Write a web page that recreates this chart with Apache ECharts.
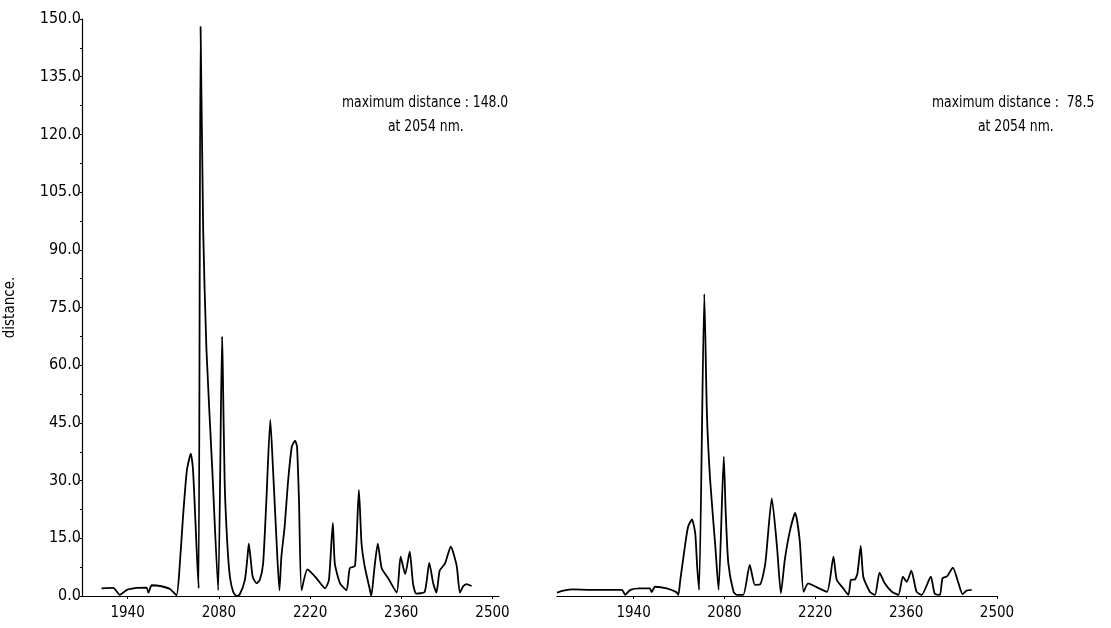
<!DOCTYPE html>
<html>
<head>
<meta charset="utf-8">
<script src="https://cdn.jsdelivr.net/npm/echarts@6/dist/echarts.min.js"></script>
<style>
  html, body { margin: 0; padding: 0; background: #fff; }
  #chart { width: 1111px; height: 628px; }
</style>
</head>
<body>
<div id="chart"></div>
<script>
// x tick labels (nm)
var xTicks = [1940, 2080, 2220, 2360, 2500];

// left panel: distance spectrum
var leftNm = [1900, 1918, 1928, 1939, 1954, 1969, 1972, 1977, 1990, 2005, 2015, 2020, 2025, 2031, 2037, 2040, 2042, 2046, 2049, 2052,
    2056, 2061, 2070, 2079, 2085, 2086, 2089, 2093, 2097, 2102, 2107, 2112, 2120, 2124, 2126, 2129, 2132, 2138, 2143, 2148,
    2153, 2159, 2163, 2168, 2173, 2176, 2181, 2186, 2192, 2197, 2200, 2203, 2207, 2216, 2230, 2243, 2249, 2255, 2258, 2266,
    2276, 2281, 2289, 2295, 2299, 2304, 2312, 2314, 2319, 2324, 2330, 2340, 2353, 2359, 2366, 2373, 2378, 2383, 2396, 2403,
    2409, 2414, 2419, 2427, 2436, 2445, 2450, 2455, 2460, 2468];
var leftDist = [2.0, 2.1, 0.3, 1.6, 2.1, 2.2, 0.9, 2.8, 2.6, 1.8, 0.2, 8, 20.5, 32.7, 37, 33.6, 27.5, 12, 2, 148,
    95, 64, 32.7, 1.5, 67.5, 60, 29.3, 13.7, 5, 1.1, 0, 0.4, 4.2, 10.2, 13.6, 9.4, 5, 3.3, 4.2, 8.5,
    25, 45.8, 33.6, 16.3, 1.5, 10.2, 18, 29.3, 38.8, 40.4, 38.8, 25, 1.5, 6.9, 4.6, 2.0, 4.2, 19, 8.5, 3.3,
    1.5, 7.2, 7.8, 27.6, 13.7, 7.6, 1.5, 0, 7.6, 13.6, 7.2, 4.6, 0.9, 10.2, 5.7, 11.5, 3.3, 0.6, 1.1, 8.6,
    3.3, 0.9, 6.6, 8.4, 12.8, 7.9, 0.9, 2.5, 3.1, 2.6];

// right panel
var rightNm = [1822, 1832, 1847, 1873, 1922, 1927, 1935, 1950, 1965, 1968, 1973, 1991, 2006, 2009, 2012, 2019, 2024, 2030, 2035, 2038,
    2041, 2049, 2053, 2058, 2066, 2071, 2079, 2082, 2086, 2094, 2099, 2109, 2119, 2127, 2135, 2143, 2153, 2161, 2167, 2173,
    2181, 2189, 2196, 2202, 2209, 2222, 2238, 2248, 2253, 2263, 2271, 2275, 2281, 2285, 2290, 2294, 2304, 2312, 2319, 2327,
    2338, 2348, 2355, 2361, 2368, 2376, 2384, 2398, 2404, 2412, 2416, 2423, 2432, 2440, 2447, 2453, 2461];
var rightDist = [0.9, 1.4, 1.7, 1.6, 1.6, 0.3, 1.6, 2.0, 2.0, 1.0, 2.4, 2.0, 1.0, 0.3, 4.2, 12.8, 18, 19.9, 16.3, 7.6,
    1.6, 78.5, 47.4, 30.1, 12.8, 1.6, 36.2, 21.5, 8.5, 1.1, 0.3, 0.3, 8.1, 2.9, 3.0, 8.5, 25.4, 12.8, 0.7, 9.4,
    17, 21.6, 14.5, 1.1, 3.3, 2.3, 1.1, 10.2, 4.2, 2.0, 0.3, 4.2, 4.3, 5.9, 13.0, 5.0, 1.1, 0.3, 6.1, 3.3,
    1.1, 0.3, 5.0, 3.7, 6.6, 1.1, 0.3, 5.0, 0.6, 0.3, 4.6, 5.1, 7.4, 3.7, 0.5, 1.4, 1.6];

var FONT = '"Liberation Sans Narrow", "DejaVu Sans Condensed", sans-serif';

function pairs(xs, ys) {
    var out = [];
    for (var i = 0; i < xs.length; i++) out.push([xs[i], ys[i]]);
    return out;
}

function xAxisFor(idx, min, max) {
    return {
        type: 'value', gridIndex: idx, min: min, max: max,
        axisLine: { show: true, onZero: false, lineStyle: { color: '#000', width: 1.2 } },
        axisTick: { show: true, length: 3, customValues: xTicks, lineStyle: { color: '#000' } },
        axisLabel: {
            customValues: xTicks, color: '#000', fontFamily: FONT, fontSize: 15, margin: 10,
            formatter: function (v) { return String(v); }
        },
        splitLine: { show: false }
    };
}

function note(x, y, text) {
    return {
        type: 'text', left: x, top: y, scaleX: 0.86,
        style: { text: text, fill: '#000', font: '16px ' + FONT }
    };
}

var chart = echarts.init(document.getElementById('chart'));
chart.setOption({
    backgroundColor: '#fff',
    animation: false,
    grid: [
        { left: 82, top: 19, width: 417, height: 577 },
        { left: 557, top: 19, width: 440, height: 577 }
    ],
    xAxis: [xAxisFor(0, 1870, 2510), xAxisFor(1, 1822, 2500)],
    yAxis: [{
        type: 'value', gridIndex: 0, min: 0, max: 150, interval: 15,
        name: 'distance.', nameLocation: 'middle', nameGap: 64,
        nameTextStyle: { color: '#000', fontFamily: FONT, fontSize: 15 },
        axisLine: { show: true, lineStyle: { color: '#000', width: 1.2 } },
        axisTick: { show: true, length: 2, lineStyle: { color: '#000' } },
        minorTick: { show: true, splitNumber: 2, length: 2, lineStyle: { color: '#000' } },
        axisLabel: {
            color: '#000', fontFamily: FONT, fontSize: 16, margin: 1,
            formatter: function (v) { return v.toFixed(1); }
        },
        splitLine: { show: false }
    }, {
        type: 'value', gridIndex: 1, min: 0, max: 150, show: false
    }],
    series: [{
        type: 'line', xAxisIndex: 0, yAxisIndex: 0,
        data: pairs(leftNm, leftDist),
        showSymbol: false, smooth: 0.2,
        lineStyle: { color: '#000', width: 1.8 }
    }, {
        type: 'line', xAxisIndex: 1, yAxisIndex: 1,
        data: pairs(rightNm, rightDist),
        showSymbol: false, smooth: 0.2,
        lineStyle: { color: '#000', width: 1.8 }
    }],
    graphic: [
        note(342, 95, 'maximum distance : 148.0'),
        note(388, 119, 'at 2054 nm.'),
        note(932, 95, 'maximum distance :  78.5'),
        note(978, 119, 'at 2054 nm.')
    ]
});
</script>
</body>
</html>
